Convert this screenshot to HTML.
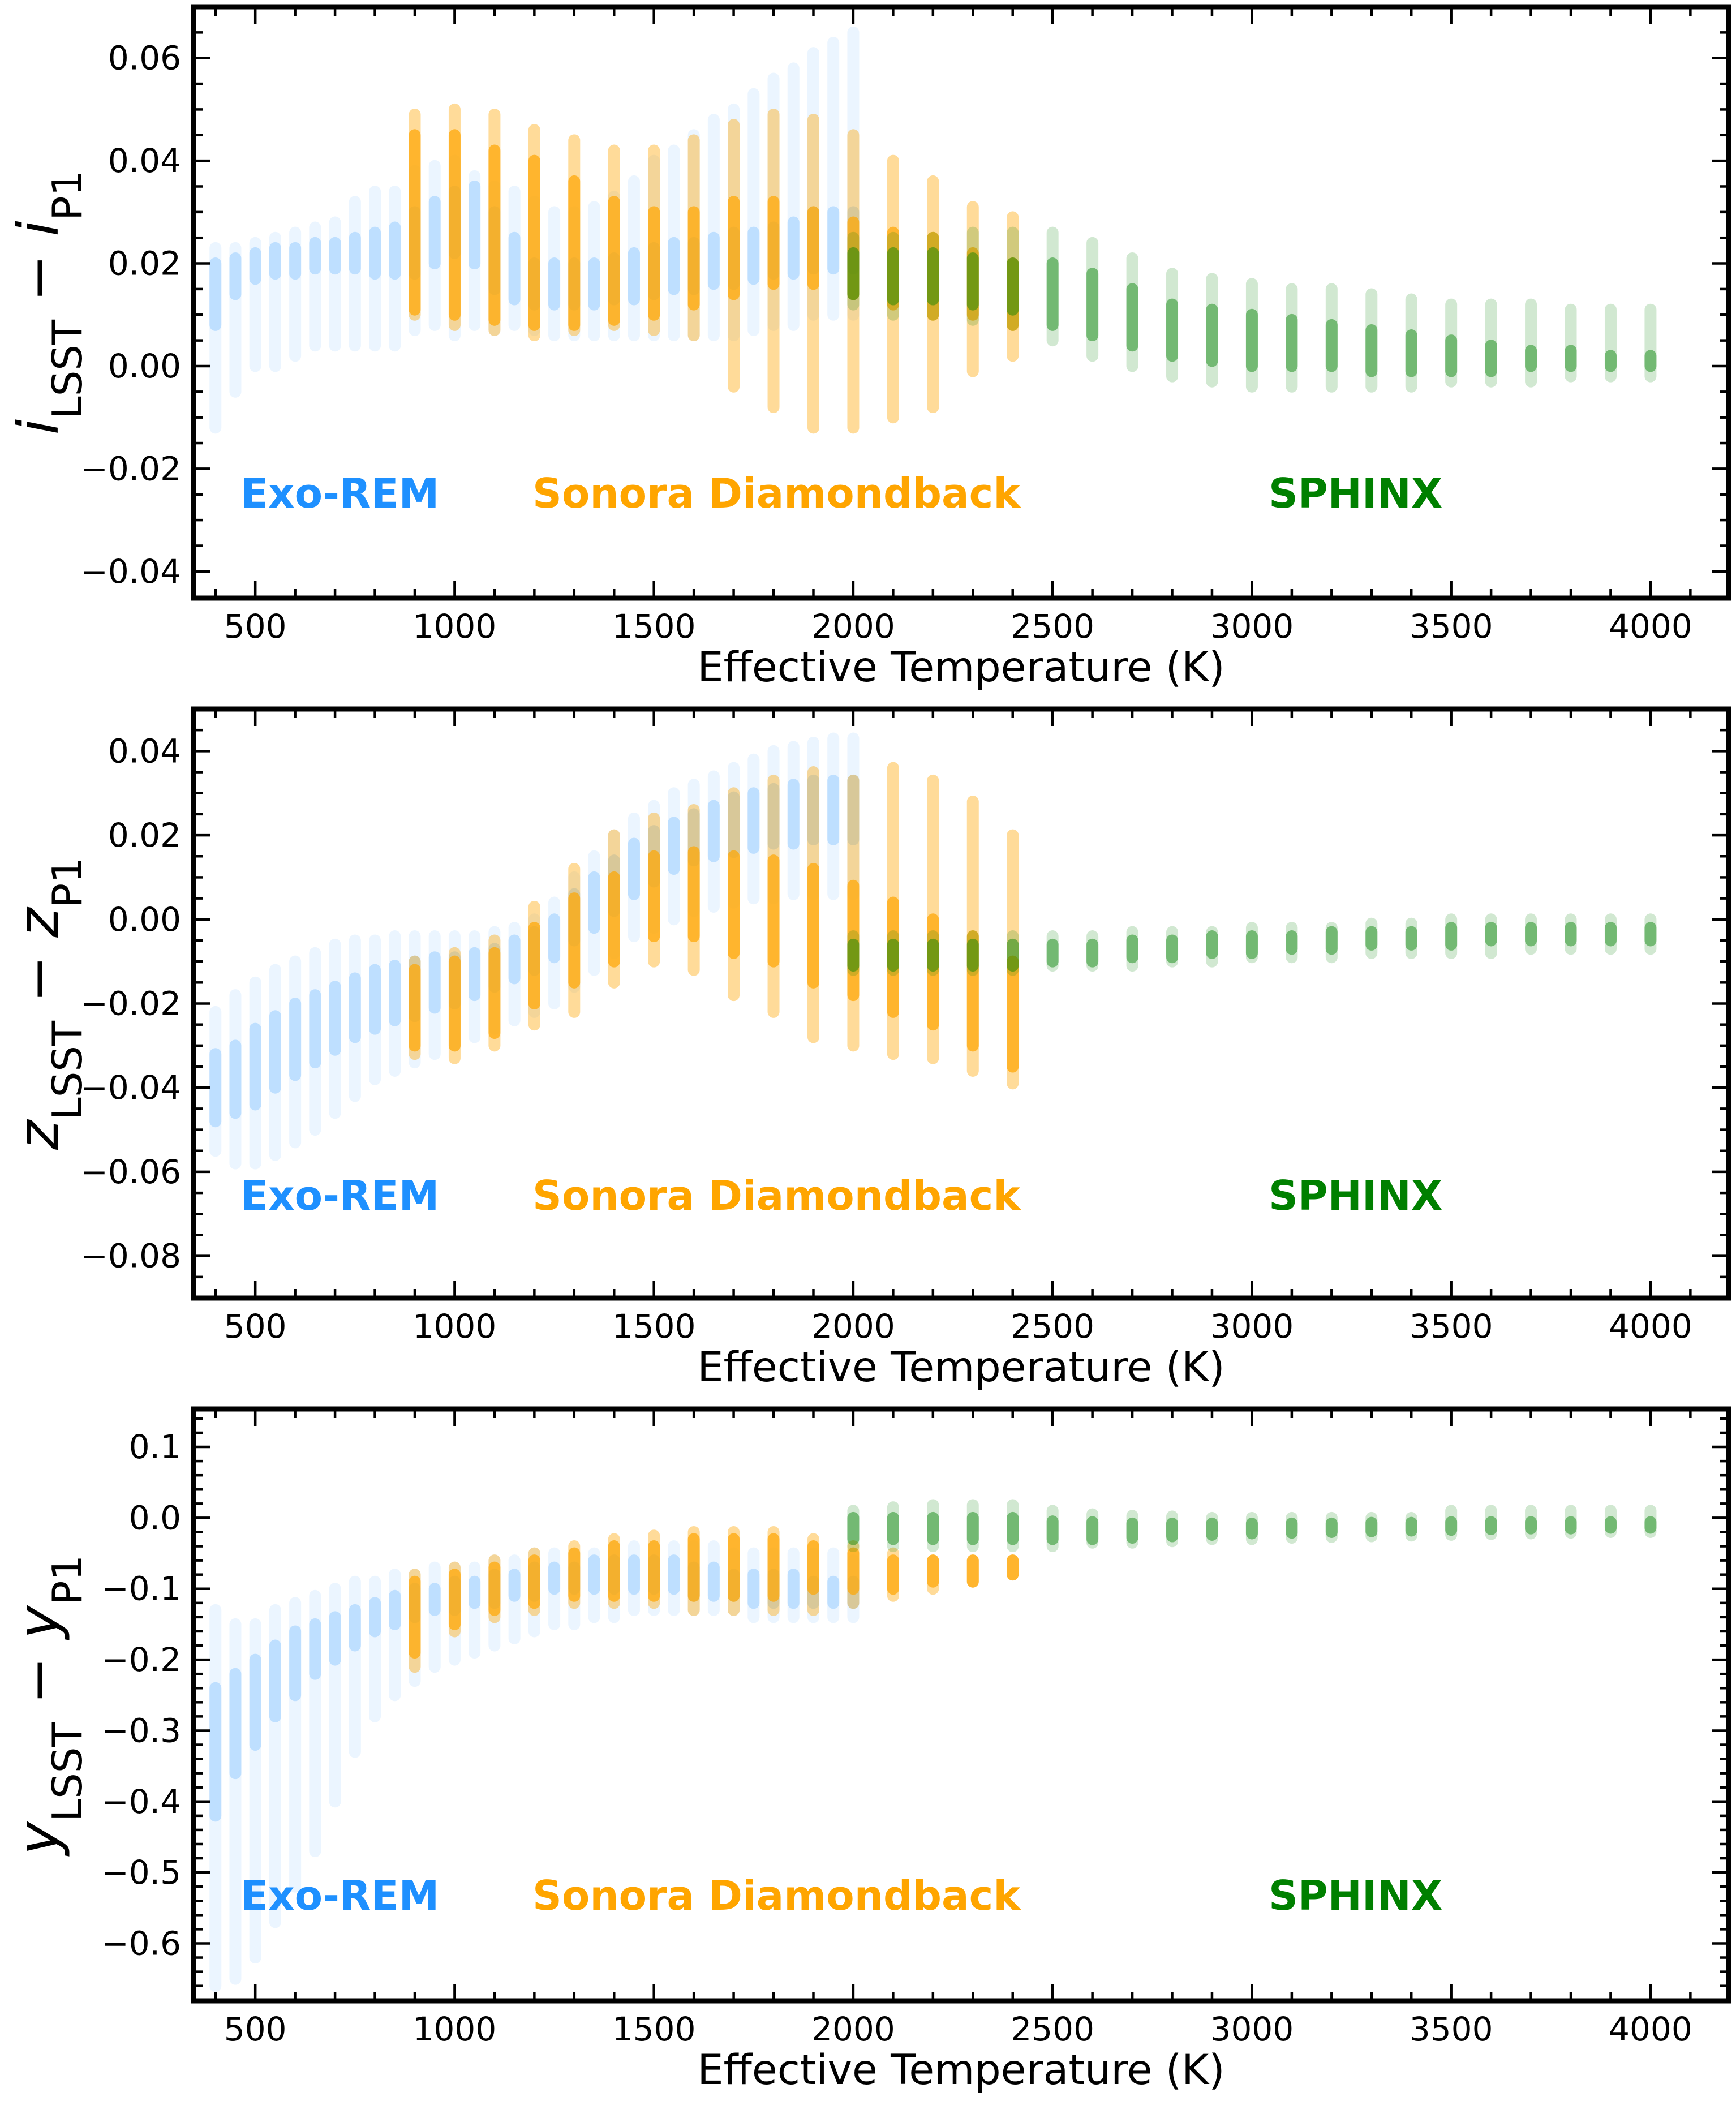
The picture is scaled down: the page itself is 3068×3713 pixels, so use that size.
<!DOCTYPE html>
<html><head><meta charset="utf-8"><style>
html,body{margin:0;padding:0;background:#fff;}
svg{display:block;font-family:"DejaVu Sans","Liberation Sans",sans-serif;}
</style></head><body>
<svg id="chart" width="3068" height="3713" viewBox="0 0 3068 3713" xmlns="http://www.w3.org/2000/svg"></svg>
<script>
const exoT=[400,450,500,550,600,650,700,750,800,850,900,950,1000,1050,1100,1150,1200,1250,1300,1350,1400,1450,1500,1550,1600,1650,1700,1750,1800,1850,1900,1950,2000];
const sonT=[900,1000,1100,1200,1300,1400,1500,1600,1700,1800,1900,2000,2100,2200,2300,2400];
const sphT=[2000,2100,2200,2300,2400,2500,2600,2700,2800,2900,3000,3100,3200,3300,3400,3500,3600,3700,3800,3900,4000];
const xTicks=[500,1000,1500,2000,2500,3000,3500,4000];

// Panel 1 (i)
const p1ExoLo=[-0.012,-0.005,0.0,0.0,0.002,0.004,0.004,0.004,0.004,0.004,0.007,0.008,0.006,0.008,0.007,0.008,0.007,0.006,0.006,0.006,0.006,0.006,0.006,0.006,0.006,0.006,0.006,0.007,0.008,0.008,0.01,0.01,0.01];
const p1ExoHi=[0.023,0.023,0.024,0.025,0.026,0.027,0.028,0.032,0.034,0.034,0.038,0.039,0.04,0.037,0.035,0.034,0.032,0.03,0.03,0.031,0.033,0.036,0.04,0.042,0.045,0.048,0.05,0.053,0.056,0.058,0.061,0.063,0.065];
const p1ExoCoreLo=[0.008,0.014,0.017,0.018,0.018,0.019,0.019,0.019,0.018,0.018,0.018,0.02,0.022,0.02,0.015,0.013,0.012,0.012,0.012,0.012,0.013,0.013,0.014,0.015,0.015,0.016,0.016,0.017,0.018,0.018,0.019,0.019,0.019];
const p1ExoCoreHi=[0.02,0.021,0.022,0.023,0.023,0.024,0.024,0.025,0.026,0.027,0.03,0.032,0.034,0.035,0.03,0.025,0.02,0.02,0.02,0.02,0.021,0.022,0.023,0.024,0.024,0.025,0.026,0.026,0.027,0.028,0.03,0.03,0.03];
const p1SonLo=[0.010,0.008,0.007,0.006,0.007,0.008,0.007,0.006,-0.004,-0.008,-0.012,-0.012,-0.010,-0.008,-0.001,0.002];
const p1SonHi=[0.049,0.050,0.049,0.046,0.044,0.042,0.042,0.044,0.047,0.049,0.048,0.045,0.040,0.036,0.031,0.029];
const p1SonCoreLo=[0.011,0.01,0.009,0.008,0.008,0.009,0.01,0.012,0.014,0.016,0.016,0.014,0.012,0.01,0.01,0.008];
const p1SonCoreHi=[0.045,0.045,0.042,0.04,0.036,0.032,0.03,0.03,0.032,0.032,0.03,0.028,0.026,0.025,0.022,0.02];
const p1SphLo=[0.012,0.010,0.010,0.009,0.008,0.005,0.002,0.000,-0.002,-0.003,-0.004,-0.004,-0.004,-0.004,-0.004,-0.003,-0.003,-0.003,-0.002,-0.002,-0.002];
const p1SphHi=[0.025,0.025,0.025,0.026,0.026,0.026,0.024,0.021,0.018,0.017,0.016,0.015,0.015,0.014,0.013,0.012,0.012,0.012,0.011,0.011,0.011];
const p1SphCoreLo=[0.014,0.013,0.013,0.012,0.011,0.008,0.006,0.004,0.002,0.001,0.0,0.0,0.0,-0.001,-0.001,-0.001,-0.001,0.0,0.0,0.0,0.0];
const p1SphCoreHi=[0.022,0.022,0.022,0.021,0.02,0.02,0.018,0.015,0.012,0.011,0.01,0.009,0.008,0.007,0.006,0.005,0.004,0.003,0.003,0.002,0.002];
const p1YTicks=[-0.04,-0.02,0.00,0.02,0.04,0.06];
const p1YLabels=["\u22120.04","\u22120.02","0.00","0.02","0.04","0.06"];

// Panel 2 (z)
const p2ExoLo=[-0.055,-0.058,-0.058,-0.056,-0.053,-0.05,-0.046,-0.042,-0.038,-0.036,-0.034,-0.032,-0.030,-0.028,-0.026,-0.024,-0.022,-0.02,-0.016,-0.012,-0.008,-0.004,-0.002,0,0.002,0.003,0.004,0.005,0.005,0.006,0.006,0.006,0.006];
const p2ExoHi=[-0.022,-0.018,-0.015,-0.012,-0.01,-0.008,-0.006,-0.005,-0.005,-0.004,-0.004,-0.004,-0.004,-0.004,-0.003,-0.002,0,0.004,0.01,0.015,0.02,0.024,0.027,0.03,0.032,0.034,0.036,0.038,0.04,0.041,0.042,0.043,0.043];
const p2ExoCoreLo=[-0.048,-0.046,-0.044,-0.04,-0.037,-0.034,-0.031,-0.028,-0.026,-0.024,-0.023,-0.021,-0.02,-0.018,-0.016,-0.014,-0.012,-0.009,-0.005,-0.002,0.002,0.006,0.009,0.012,0.014,0.015,0.016,0.017,0.018,0.018,0.019,0.019,0.019];
const p2ExoCoreHi=[-0.032,-0.03,-0.026,-0.023,-0.02,-0.018,-0.016,-0.014,-0.012,-0.011,-0.01,-0.009,-0.009,-0.008,-0.007,-0.005,-0.003,0.0,0.006,0.01,0.014,0.018,0.021,0.023,0.025,0.027,0.029,0.03,0.031,0.032,0.033,0.033,0.033];
const p2SonLo=[-0.032,-0.033,-0.030,-0.025,-0.022,-0.015,-0.010,-0.012,-0.018,-0.022,-0.028,-0.030,-0.032,-0.033,-0.036,-0.039];
const p2SonHi=[-0.010,-0.008,-0.005,0.003,0.012,0.020,0.024,0.026,0.030,0.033,0.035,0.033,0.036,0.033,0.028,0.020];
const p2SonCoreLo=[-0.03,-0.03,-0.027,-0.02,-0.015,-0.01,-0.004,-0.004,-0.008,-0.01,-0.015,-0.018,-0.022,-0.025,-0.03,-0.035];
const p2SonCoreHi=[-0.012,-0.01,-0.008,-0.002,0.005,0.01,0.015,0.016,0.015,0.014,0.012,0.008,0.004,0.0,-0.004,-0.01];
const p2SphLo=[-0.012,-0.012,-0.012,-0.012,-0.012,-0.011,-0.011,-0.011,-0.01,-0.01,-0.009,-0.009,-0.009,-0.008,-0.008,-0.008,-0.008,-0.007,-0.007,-0.007,-0.007];
const p2SphHi=[-0.004,-0.004,-0.004,-0.004,-0.004,-0.004,-0.004,-0.003,-0.003,-0.003,-0.002,-0.002,-0.002,-0.001,-0.001,0.0,0.0,0.0,0.0,0.0,0.0];
const p2SphCoreLo=[-0.011,-0.011,-0.011,-0.011,-0.011,-0.010,-0.010,-0.009,-0.009,-0.008,-0.008,-0.007,-0.007,-0.006,-0.006,-0.006,-0.005,-0.005,-0.005,-0.005,-0.005];
const p2SphCoreHi=[-0.006,-0.006,-0.006,-0.006,-0.006,-0.006,-0.006,-0.005,-0.005,-0.004,-0.004,-0.004,-0.003,-0.003,-0.003,-0.002,-0.002,-0.002,-0.002,-0.002,-0.002];
const p2YTicks=[-0.08,-0.06,-0.04,-0.02,0.00,0.02,0.04];
const p2YLabels=["\u22120.08","\u22120.06","\u22120.04","\u22120.02","0.00","0.02","0.04"];

// Panel 3 (y)
const p3ExoLo=[-0.66,-0.65,-0.62,-0.57,-0.52,-0.47,-0.40,-0.33,-0.28,-0.25,-0.23,-0.21,-0.20,-0.19,-0.18,-0.17,-0.16,-0.15,-0.15,-0.14,-0.14,-0.13,-0.13,-0.13,-0.13,-0.13,-0.13,-0.14,-0.14,-0.14,-0.14,-0.14,-0.14];
const p3ExoHi=[-0.13,-0.15,-0.15,-0.13,-0.12,-0.11,-0.10,-0.09,-0.09,-0.08,-0.08,-0.07,-0.07,-0.07,-0.06,-0.06,-0.05,-0.05,-0.05,-0.05,-0.04,-0.04,-0.04,-0.04,-0.04,-0.04,-0.05,-0.05,-0.05,-0.05,-0.05,-0.05,-0.06];
const p3ExoCoreLo=[-0.42,-0.36,-0.32,-0.28,-0.25,-0.22,-0.2,-0.18,-0.16,-0.15,-0.14,-0.13,-0.13,-0.12,-0.12,-0.11,-0.11,-0.1,-0.1,-0.1,-0.1,-0.1,-0.1,-0.1,-0.11,-0.11,-0.11,-0.12,-0.12,-0.12,-0.12,-0.12,-0.12];
const p3ExoCoreHi=[-0.24,-0.22,-0.2,-0.18,-0.16,-0.15,-0.14,-0.13,-0.12,-0.11,-0.1,-0.1,-0.09,-0.09,-0.08,-0.08,-0.07,-0.07,-0.07,-0.06,-0.06,-0.06,-0.06,-0.06,-0.07,-0.07,-0.08,-0.08,-0.08,-0.08,-0.09,-0.09,-0.09];
const p3SonLo=[-0.21,-0.16,-0.14,-0.13,-0.12,-0.12,-0.12,-0.13,-0.13,-0.13,-0.13,-0.12,-0.11,-0.10,-0.09,-0.08];
const p3SonHi=[-0.08,-0.07,-0.06,-0.05,-0.04,-0.03,-0.025,-0.02,-0.02,-0.02,-0.03,-0.04,-0.05,-0.06,-0.06,-0.06];
const p3SonCoreLo=[-0.19,-0.15,-0.13,-0.12,-0.11,-0.11,-0.11,-0.11,-0.11,-0.11,-0.1,-0.1,-0.1,-0.09,-0.09,-0.08];
const p3SonCoreHi=[-0.09,-0.08,-0.07,-0.06,-0.05,-0.04,-0.04,-0.03,-0.03,-0.03,-0.04,-0.05,-0.06,-0.06,-0.06,-0.06];
const p3SphLo=[-0.04,-0.04,-0.04,-0.04,-0.04,-0.04,-0.035,-0.035,-0.033,-0.03,-0.03,-0.028,-0.027,-0.026,-0.025,-0.024,-0.023,-0.022,-0.021,-0.02,-0.02];
const p3SphHi=[0.01,0.015,0.018,0.018,0.018,0.01,0.005,0.003,0.002,0.0,0.0,0.0,0.0,0.0,0.0,0.01,0.01,0.01,0.01,0.01,0.01];
const p3SphCoreLo=[-0.03,-0.03,-0.03,-0.03,-0.03,-0.03,-0.03,-0.028,-0.026,-0.024,-0.022,-0.021,-0.02,-0.019,-0.018,-0.017,-0.016,-0.015,-0.015,-0.014,-0.014];
const p3SphCoreHi=[0.0,0.0,0.0,0.0,0.0,-0.005,-0.006,-0.008,-0.008,-0.008,-0.008,-0.008,-0.008,-0.007,-0.007,-0.006,-0.006,-0.006,-0.006,-0.006,-0.006];
const p3YTicks=[-0.6,-0.5,-0.4,-0.3,-0.2,-0.1,0.0,0.1];
const p3YLabels=["\u22120.6","\u22120.5","\u22120.4","\u22120.3","\u22120.2","\u22120.1","0.0","0.1"];

const NS="http://www.w3.org/2000/svg";
const svg=document.getElementById('chart');
function mk(tag,attrs,parent){const e=document.createElementNS(NS,tag);for(const k in attrs)e.setAttribute(k,attrs[k]);(parent||svg).appendChild(e);return e;}

const L=342,R=3055,XMIN=345,XMAX=4196;
const xs=v=>L+(v-XMIN)/(XMAX-XMIN)*(R-L);
const DOT=10.5;

const panels=[
 {id:'i',top:12,bot:1057,ymin:-0.0452,ymax:0.07,minor:0.005,ticks:p1YTicks,labels:p1YLabels,letter:'i',
  exo:[p1ExoLo,p1ExoHi,p1ExoCoreLo,p1ExoCoreHi],son:[p1SonLo,p1SonHi,p1SonCoreLo,p1SonCoreHi],sph:[p1SphLo,p1SphHi,p1SphCoreLo,p1SphCoreHi]},
 {id:'z',top:1253,bot:2294,ymin:-0.09,ymax:0.05,minor:0.005,ticks:p2YTicks,labels:p2YLabels,letter:'z',
  exo:[p2ExoLo,p2ExoHi,p2ExoCoreLo,p2ExoCoreHi],son:[p2SonLo,p2SonHi,p2SonCoreLo,p2SonCoreHi],sph:[p2SphLo,p2SphHi,p2SphCoreLo,p2SphCoreHi]},
 {id:'y',top:2490,bot:3536,ymin:-0.681,ymax:0.1535,minor:0.02,ticks:p3YTicks,labels:p3YLabels,letter:'y',
  exo:[p3ExoLo,p3ExoHi,p3ExoCoreLo,p3ExoCoreHi],son:[p3SonLo,p3SonHi,p3SonCoreLo,p3SonCoreHi],sph:[p3SphLo,p3SphHi,p3SphCoreLo,p3SphCoreHi]}
];

panels.forEach((p,pi)=>{
  const g=mk('g',{});
  
  
  const ys=v=>p.bot-(v-p.ymin)/(p.ymax-p.ymin)*(p.bot-p.top);
  const clipId='clip'+pi;
  const cp=mk('clipPath',{id:clipId},g);mk('rect',{x:L,y:p.top,width:R-L,height:p.bot-p.top},cp);
  const plot=mk('g',{'clip-path':'url(#'+clipId+')'},g);
  function series(name,T,arr,color,bandOp,coreOp){
    const sg=mk('g',{},plot);
    
    
    T.forEach((t,i)=>{
      const x=xs(t);
      const y1=ys(arr[1][i]),y0=ys(arr[0][i]);
      const b=mk('rect',{x:x-DOT,y:y1-DOT,width:2*DOT,height:(y0-y1)+2*DOT,rx:DOT,fill:color,'fill-opacity':bandOp},sg);
      
      
      const c1=ys(arr[3][i]),c0=ys(arr[2][i]);
      const c=mk('rect',{x:x-DOT,y:c1-DOT,width:2*DOT,height:(c0-c1)+2*DOT,rx:DOT,fill:color,'fill-opacity':coreOp},sg);
      
      
    });
  }
  series('exo-rem',exoT,p.exo,'#1e90ff',0.09,0.22);
  series('sonora',sonT,p.son,'#ffa500',0.4,0.7);
  series('sphinx',sphT,p.sph,'#008000',0.18,0.45);

  const tg=mk('g',{stroke:'#000','stroke-width':4.5},g);
  for(let v=400;v<=4100;v+=100){
    const x=xs(v);const major=v%500===0;const len=major?30:16;
    mk('line',{x1:x,y1:p.bot,x2:x,y2:p.bot-len},tg);
    mk('line',{x1:x,y1:p.top,x2:x,y2:p.top+len},tg);
  }
  const nMin=Math.ceil(p.ymin/p.minor), nMax=Math.floor(p.ymax/p.minor);
  for(let k=nMin;k<=nMax;k++){
    const v=k*p.minor;const y=ys(v);
    const major=p.ticks.some(t=>Math.abs(t-v)<1e-9);const len=major?30:16;
    mk('line',{x1:L,y1:y,x2:L+len,y2:y},tg);
    mk('line',{x1:R,y1:y,x2:R-len,y2:y},tg);
  }
  const frame=mk('rect',{x:L,y:p.top,width:R-L,height:p.bot-p.top,fill:'none',stroke:'#000','stroke-width':9},g);
  
  

  xTicks.forEach(v=>{
    const t=mk('text',{x:xs(v),y:p.bot+70,'font-size':58,'text-anchor':'middle',fill:'#000'},g);
    t.textContent=v;
    
    
  });
  p.ticks.forEach((v,i)=>{
    const t=mk('text',{x:L-22,y:ys(v)+20,'font-size':58,'text-anchor':'end',fill:'#000'},g);
    t.textContent=p.labels[i];
    
    
  });
  const xt=mk('text',{x:(L+R)/2,y:p.bot+147,'font-size':73,'text-anchor':'middle',fill:'#000'},g);
  xt.textContent='Effective Temperature (K)';
  
  

  const cy=(p.top+p.bot)/2;
  const yt=mk('text',{x:0,y:0,'font-size':100,'text-anchor':'middle',fill:'#000',transform:'translate(102,'+cy+') rotate(-90)'},g);
  
  
  const a=mk('tspan',{'font-style':'italic'},yt);a.textContent=p.letter;
  const b=mk('tspan',{'baseline-shift':'sub','font-size':72},yt);b.textContent='LSST';
  const c=mk('tspan',{},yt);c.textContent=' \u2212 ';
  const d=mk('tspan',{'font-style':'italic'},yt);d.textContent=p.letter;
  const e=mk('tspan',{'baseline-shift':'sub','font-size':72},yt);e.textContent='P1';

  const lbls=[['Exo-REM',425,'#1e90ff','label-exo-rem'],['Sonora Diamondback',941,'#ffa500','label-sonora-diamondback'],['SPHINX',2242,'#008000','label-sphinx']];
  lbls.forEach(l=>{
    const t=mk('text',{x:l[1],y:p.top+885,'font-size':72,'font-weight':'bold',fill:l[2]},g);
    t.textContent=l[0];
    
    
  });
});
</script>
</body></html>
